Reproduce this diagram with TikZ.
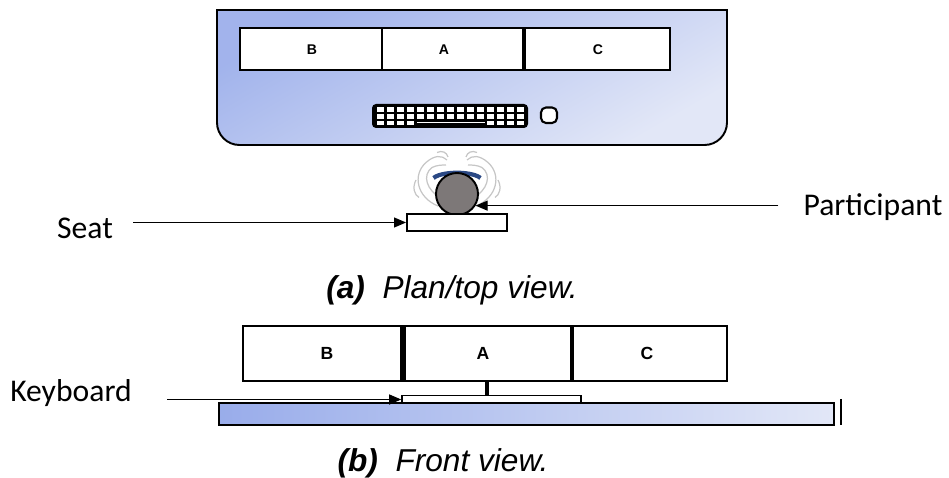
\documentclass[tikz,border=0pt]{standalone}
\usepackage{fontspec}
\setmainfont{Liberation Sans}
\newfontfamily\labelfont{Carlito}
\usetikzlibrary{arrows.meta}

\definecolor{deskdark}{RGB}{140,162,232}
\definecolor{desklight}{RGB}{226,231,247}
\definecolor{headgray}{RGB}{125,120,120}
\definecolor{capblue}{RGB}{42,72,132}

\tikzset{
	screen/.style={line width=1.6pt},
	pointer/.style={line width=0.6pt, -{Triangle[length=0.24cm, width=0.2cm]}},
	tag/.style={font=\labelfont\fontsize{18}{20}\selectfont, inner sep=0pt},
	caption/.style={font=\itshape\fontsize{18}{20}\selectfont, inner sep=0pt},
	letter/.style={font=\bfseries\fontsize{#1}{#1}\selectfont, inner sep=0pt},
}

\begin{document}
\begin{tikzpicture}
		%%%%% START %%%%%
		\useasboundingbox (0, 0) rectangle (18.98, -9.56);
		
		% desk seen from above
		\shade[draw, line width=1.1pt, top color=deskdark!75!desklight, bottom color=desklight, shading angle=30]
			(4.34, -0.2) -- (4.34, -2.45) arc (180:270:0.45) -- (14.09, -2.9) arc (270:360:0.45) -- (14.54, -0.2) -- cycle;
		
		\draw[screen, fill=white] (4.8, -0.56) rectangle (13.4, -1.4);
		\draw[screen] (7.64, -0.56) -- (7.64, -1.4);
		\draw[line width=2.8pt] (10.48, -0.56) -- (10.48, -1.4);
		\node[letter=8] (topB) at (6.24, -1.0) {B};
		\node[letter=8] (topA) at (8.88, -1.0) {A};
		\node[letter=8] (topC) at (11.96, -1.0) {C};
		
		% keyboard and mouse
		\fill[black, rounded corners=0.08cm] (7.44, -2.08) rectangle (10.56, -2.56);
		\foreach \i in {0,...,14} {
			\fill[white] ({7.53+0.2*\i}, -2.15) rectangle ++(0.14, -0.09);
			\fill[white] ({7.53+0.2*\i}, -2.29) rectangle ++(0.14, -0.09);
		}
		\foreach \i in {0,1,2,3,11,12,13,14} {
			\fill[white] ({7.53+0.2*\i}, -2.42) rectangle ++(0.14, -0.08);
		}
		\fill[white] (8.34, -2.44) rectangle (9.7, -2.47);
		\draw[line width=1.2pt, fill=white, rounded corners=0.1cm] (10.82, -2.15) rectangle (11.14, -2.46);
		
		% participant with arms on the desk
		\foreach \s in {1,-1} {
			\begin{scope}[xshift=9.14cm, xscale=\s, gray!45, line width=0.7pt]
				\draw (-0.38, -4.12) .. controls (-0.8, -3.95) and (-0.9, -3.5) .. (-0.62, -3.25);
				\draw (-0.3, -3.98) .. controls (-0.62, -3.8) and (-0.7, -3.5) .. (-0.5, -3.35);
				\draw (-0.62, -3.25) .. controls (-0.45, -3.1) and (-0.3, -3.1) .. (-0.2, -3.2);
				\draw (-0.5, -3.35) .. controls (-0.4, -3.3) and (-0.3, -3.3) .. (-0.22, -3.3);
				\draw (-0.4, -3.05) .. controls (-0.3, -3.0) and (-0.2, -3.05) .. (-0.18, -3.14);
				\draw (-0.82, -3.6) .. controls (-0.9, -3.75) and (-0.85, -3.9) .. (-0.76, -3.95);
			\end{scope}
		}
		\draw[capblue, line width=2.4pt] (8.67, -3.56) arc (160:20:0.5 and 0.16);
		\node[draw, line width=1.1pt, fill=headgray, circle, minimum size=0.84cm, inner sep=0pt] (head) at (9.14, -3.88) {};
		\node[draw, line width=1.1pt, fill=white, minimum width=2cm, minimum height=0.34cm, inner sep=0pt] (seat) at (9.14, -4.45) {};
		
		\node[tag] (seatlbl) at (1.7, -4.56) {Seat};
		\draw[pointer] ([xshift=0.4cm]seatlbl.east |- seat.west) -- (seat.west);
		\node[tag] (partlbl) at (17.46, -4.14) {Participant};
		\draw[pointer] ([xshift=-0.5cm]partlbl.west |- head.-32) -- (head.-32);
		
		\node[caption] (capa) at (9.04, -5.8) {\textbf{(a)}\ \ Plan/top view.};
		
		% front view
		\draw[screen, fill=white] (4.86, -6.52) rectangle (14.54, -7.62);
		\draw[line width=3.4pt] (8.06, -6.52) -- (8.06, -7.62);
		\draw[line width=2.4pt] (11.44, -6.52) -- (11.44, -7.62);
		\node[letter=10] (frontB) at (6.54, -7.06) {B};
		\node[letter=10] (frontA) at (9.66, -7.06) {A};
		\node[letter=10] (frontC) at (12.94, -7.06) {C};
		
		\draw[line width=2.8pt] (9.74, -7.62) -- (9.74, -7.92);
		\node[draw, line width=0.9pt, fill=white, minimum width=3.58cm, minimum height=0.16cm, inner sep=0pt] (kbd) at (9.83, -7.99) {};
		\shade[draw, line width=1.1pt, left color=deskdark!85!desklight, right color=desklight] (4.38, -8.06) rectangle (16.68, -8.5);
		\draw[line width=0.8pt] (16.82, -7.98) -- (16.82, -8.5);
		
		\node[tag] (kbdlbl) at (1.42, -7.86) {Keyboard};
		\draw[pointer] ([xshift=0.7cm]kbdlbl.east |- kbd.west) -- (kbd.west);
		
		\node[caption] (capb) at (8.86, -9.26) {\textbf{(b)}\ \ Front view.};
		
		%%%%% END %%%%%
	\end{tikzpicture}
\end{document}
